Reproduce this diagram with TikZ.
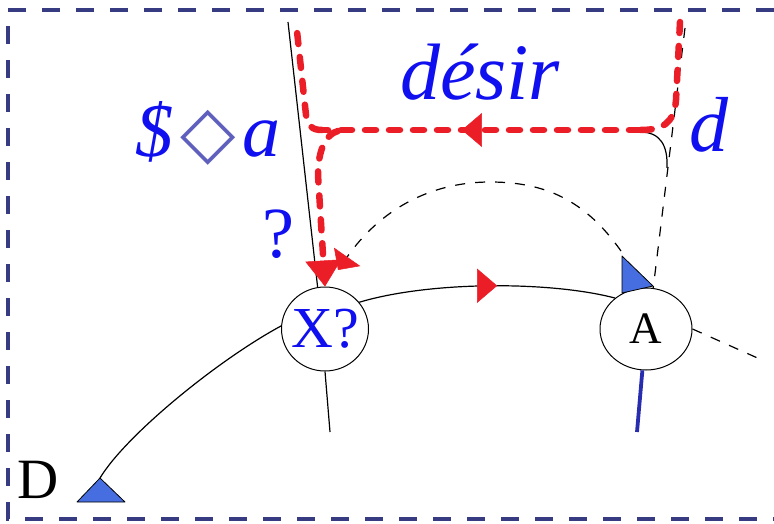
\documentclass[tikz,border=0pt]{standalone}
\usepackage{fontspec}
\setmainfont{Liberation Serif}
\newfontfamily\symboles{DejaVu Sans}
\usetikzlibrary{arrows.meta,positioning,calc,shapes.geometric,decorations.markings}
\definecolor{GrapheBleu}{RGB}{15,15,240}
\definecolor{GrapheBleuNuit}{RGB}{55,60,130}
\definecolor{GrapheBleuPale}{RGB}{95,95,190}
\definecolor{GrapheBleuFond}{RGB}{70,110,225}
\definecolor{GrapheBleuTrait}{RGB}{40,45,175}
\definecolor{GrapheRouge}{RGB}{235,30,40}
\tikzset{
  noeud/.style={draw=black, fill=white, ellipse, line width=1pt, inner sep=0pt},
  trait/.style={line width=1.2pt, black},
  traittirets/.style={line width=1.2pt, black, dash pattern=on 10pt off 10pt},
  desirligne/.style={line width=6.5pt, GrapheRouge, dash pattern=on 11pt off 13pt, line cap=round},
  pointe/.style={-{Triangle[length=26pt,width=36pt,line width=0.5pt]}},
  lettre/.style={text=GrapheBleu, inner sep=0pt},
  cadre/.style={GrapheBleuNuit, line width=3.2pt, dash pattern=on 18pt off 16pt},
  pointebleue/.style={draw=black, fill=GrapheBleuFond, line width=0.8pt, line join=round},
  marque/.style={postaction={decorate}, decoration={markings,
      mark=at position #1 with {\arrow{Triangle[length=20pt,width=34pt,line width=0.5pt,color=GrapheRouge]}}}},
}

\begin{document}
\begin{tikzpicture}[x=1pt,y=-1pt]
  \useasboundingbox (0,0) rectangle (774,524);
  % Cadre
  \draw[cadre] (774,10) -- (8,10) -- (8,519) -- (774,519);

  % Noeuds
  \node[noeud, minimum width=87pt, minimum height=84pt,
        label={[lettre, font=\fontsize{58}{58}\selectfont]center:X?}] (x) at (325,329) {};
  \node[noeud, minimum width=92pt, minimum height=82pt,
        label={[inner sep=0pt, font=\fontsize{45}{45}\selectfont]center:A}] (a) at (646,329) {};
  \coordinate (dsom) at (100,478);
  \coordinate (asom) at (621,251);
  \coordinate (xfleche) at (338,270);

  % Traits du graphe
  \draw[trait] (288,22) -- (x.100);
  \draw[trait] (x.south) -- (330,432);
  \draw[trait] (x.176) .. controls (218,360) and (126,435) .. (dsom);
  \draw[trait, marque=0.54] (x.38) .. controls (430,281) and (550,281) .. (a.135);
  \draw[trait] (640,132) .. controls (660,132) and (668,145) .. (667,168);
  \draw[traittirets] (685,28) -- (a.80);
  \draw[traittirets] (a.east) -- (762,360);
  \draw[traittirets, -{Triangle[length=16pt,width=32pt,line width=0.5pt,color=GrapheRouge]}]
    (asom) .. controls (585,200) and (545,182) .. (490,182)
    .. controls (430,182) and (380,210) .. (xfleche);
  \draw[line width=3.8pt, GrapheBleuTrait] (a.-95) -- (637,432);

  % Triangles
  \draw[pointebleue] (77,502) -- (dsom) -- (125,502) -- cycle;
  \draw[pointebleue] (622,256) -- (622,293) -- (653,286) -- cycle;

  % Ligne du desir
  \draw[desirligne] (680,22) -- (676,100) .. controls (674,124) and (662,130) .. (640,130);
  \draw[desirligne, marque=0.56] (640,130) -- (322,130);
  \draw[desirligne] (322,130) .. controls (312,130) and (308,126) .. (306,115) -- (296,22);
  \draw[desirligne, pointe] (338,131) .. controls (326,134) and (318,150) .. (318,175) -- (x.north);

  % Lettres
  \node[anchor=base, inner sep=0pt, font=\fontsize{57}{57}\selectfont] (dgrand) at (38,498) {D};
  \node[lettre, anchor=base, font=\fontsize{80}{80}\selectfont\itshape] (desir) at (480,100) {désir};
  \node[lettre, anchor=base, font=\fontsize{78}{78}\selectfont\itshape] (dpetit) at (709,152) {d};
  \node[lettre, anchor=base, font=\fontsize{72}{72}\selectfont] (question) at (278,257) {?};
  \node[lettre, anchor=base, font=\fontsize{76}{76}\selectfont] (poincon) at (208,157)
    {{\itshape\$}\hspace{7pt}{\color{GrapheBleuPale}\symboles\fontsize{72}{72}\selectfont ◇}\hspace{7pt}{\itshape a}};
\end{tikzpicture}
\end{document}
